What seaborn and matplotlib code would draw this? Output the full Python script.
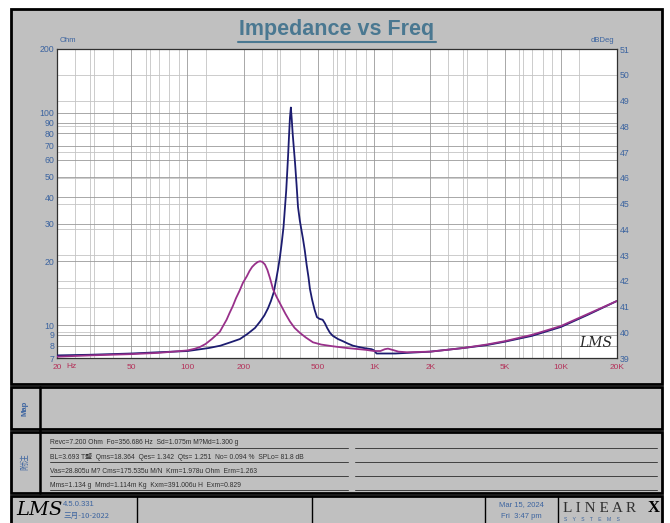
import pandas as pd
import numpy as np
import seaborn as sns
import matplotlib.pyplot as plt
from matplotlib.patches import Rectangle
from matplotlib.ticker import FixedLocator, NullFormatter

sns.set_style("white")
plt.rcParams['font.family'] = ['Liberation Sans Narrow', 'Liberation Sans', 'Noto Sans CJK SC', 'DejaVu Sans']

# impedance curves
freq_blue = [20, 30, 50, 70, 100, 130, 150, 170, 191, 210, 230, 245, 258, 270, 280, 290,
             299, 306, 313, 320, 327, 333, 338, 342, 346, 350, 354, 358, 362, 366, 371,
             377, 384, 391, 400, 408, 416, 425, 435, 445, 453, 465, 480, 494, 510, 530,
             545, 560, 580, 601, 640, 680, 720, 770, 820, 880, 970, 1000, 1030, 1100,
             1300, 1500, 2000, 3000, 4000, 5000, 7000, 10000, 14000, 20000]
ohm_blue = [7.2, 7.25, 7.35, 7.45, 7.55, 7.8, 8.0, 8.3, 8.6, 9.1, 9.7, 10.4, 11.1, 12.0, 13.0, 14.3,
            16.5, 18.5, 21, 24.5, 29, 36, 43, 52, 63, 78, 95, 106, 93, 80, 69,
            58, 46, 36, 31, 28, 25.4, 22.5, 19.2, 16.8, 14.8, 13.2, 11.8, 10.9, 10.7, 10.6,
            10.2, 9.7, 9.2, 8.9, 8.6, 8.4, 8.2, 8.0, 7.9, 7.8, 7.7, 7.6, 7.35, 7.35,
            7.35, 7.4, 7.5, 7.8, 8.05, 8.35, 8.9, 9.8, 11.2, 13.0]

freq_mag = [20, 30, 50, 70, 100, 110, 117, 125, 135, 142, 149, 155, 162, 168, 175, 182,
            190, 198, 208, 215, 222, 230, 238, 245, 252, 260, 268, 277, 287, 300, 320,
            335, 354, 375, 400, 430, 470, 520, 600, 715, 900, 1000, 1080, 1140, 1186,
            1250, 1350, 1500, 2000, 3000, 4000, 5000, 7000, 10000, 14000, 20000]
ohm_mag = [7.1, 7.2, 7.3, 7.4, 7.6, 7.75, 7.9, 8.15, 8.6, 8.95, 9.3, 9.9, 10.6, 11.4, 12.3, 13.4,
           14.5, 15.8, 17.0, 18.0, 18.8, 19.4, 19.85, 20.0, 19.85, 19.3, 18.2, 16.6, 14.8, 13.6, 12.2,
           11.3, 10.4, 9.7, 9.2, 8.75, 8.3, 8.1, 7.95, 7.8, 7.65, 7.55, 7.55, 7.7, 7.75,
           7.65, 7.5, 7.45, 7.5, 7.8, 8.1, 8.4, 9.0, 9.9, 11.3, 13.0]

x_ticks = [20, 50, 100, 200, 500, 1000, 2000, 5000, 10000, 20000]
x_labels = ["20", "50", "100", "200", "500", "1K", "2K", "5K", "10K", "20K"]
y_ticks = [7, 8, 9, 10, 20, 30, 40, 50, 60, 70, 80, 90, 100, 200]
db_ticks = list(range(39, 52))

notes = ["Revc=7.200 Ohm  Fo=356.686 Hz  Sd=1.075m M?Md=1.300 g",
         "BL=3.693 T鹽  Qms=18.364  Qes= 1.342  Qts= 1.251  No= 0.094 %  SPLo= 81.8 dB",
         "Vas=28.805u M? Cms=175.535u M/N  Krm=1.978u Ohm  Erm=1.263",
         "Mms=1.134 g  Mmd=1.114m Kg  Kxm=391.006u H  Exm=0.829"]

df = pd.concat([
    pd.DataFrame({"freq": freq_blue, "ohm": ohm_blue, "curve": "blue"}),
    pd.DataFrame({"freq": freq_mag, "ohm": ohm_mag, "curve": "mag"}),
])

W, H = 670, 523
fig = plt.figure(figsize=(W / 100, H / 100), dpi=100, facecolor="white")

GREY = "#c0c0c0"
BLUE_TXT = "#3c64a0"
RED_TXT = "#b4325a"

# background / panels in pixel coords
bg = fig.add_axes([0, 0, 1, 1], zorder=0)
bg.set_xlim(0, W)
bg.set_ylim(H, 0)
bg.axis("off")
for (x0, y0, x1, y1) in [(11, 9, 662, 384), (11, 387, 662, 429), (11, 432, 662, 493), (11, 496, 662, 524)]:
    bg.add_patch(Rectangle((x0, y0), x1 - x0, y1 - y0, fc=GREY, ec="black", lw=2))
bg.plot([40, 40], [387, 493], color="black", lw=1.8)
for xd in [137, 312, 485, 558]:
    bg.plot([xd, xd], [496, 523], color="black", lw=1)

# title with underline
bg.text(337, 30, "Impedance vs Freq", ha="center", va="center", fontsize=15.5,
        fontweight="bold", color="#4a7891", family=["Liberation Sans", "DejaVu Sans"])
bg.plot([238, 436], [42, 42], color="#4a7891", lw=1.5)
bg.text(60, 44, "Ohm", fontsize=5.5, color=BLUE_TXT, va="bottom")
bg.text(614, 44, "dBDeg", fontsize=5.5, color=BLUE_TXT, va="bottom", ha="right")
bg.text(66, 367, "Hz", fontsize=6, color=RED_TXT, va="center")

# side labels
bg.text(25, 408, "Map", rotation=90, ha="center", va="center", fontsize=5.5,
        color=BLUE_TXT, fontweight="bold")
bg.text(25, 462, "附注", rotation=90, ha="center", va="center", fontsize=6,
        color=BLUE_TXT)

# notes lines
for i, line in enumerate(notes):
    yy = 443 + i * 14.3
    bg.text(50, yy, line, fontsize=4.9, color="#303030", va="center")
    bg.plot([50, 348], [yy + 4.5, yy + 4.5], color="#404040", lw=0.7)
    bg.plot([355, 657], [yy + 4.5, yy + 4.5], color="#404040", lw=0.7)

# footer
bg.text(16, 510, "LMS", fontsize=14, style="italic", color="black", va="center",
        family=["DejaVu Serif"])
bg.text(63, 505, "4.5.0.331", fontsize=5.5, color=BLUE_TXT, va="center")
bg.text(63, 516, "三月-10-2022", fontsize=5.5, color=BLUE_TXT, va="center",
        family=["Noto Sans CJK SC", "DejaVu Sans"])
bg.text(521, 505, "Mar 15, 2024", fontsize=5.5, color=BLUE_TXT, va="center", ha="center")
bg.text(521, 516, "Fri  3:47 pm", fontsize=5.5, color=BLUE_TXT, va="center", ha="center")
bg.text(563, 508, "L I N E A R", fontsize=11, color="#303030", va="center",
        family=["Liberation Serif"])
bg.text(660, 508, "X", fontsize=12, color="black", va="center", ha="right",
        fontweight="bold", family=["Liberation Serif"])
bg.text(564, 519.5, "S    Y    S    T    E    M    S", fontsize=3.6, color=BLUE_TXT, va="center")

# main chart: dB twin axis sits underneath so its grid shows through
ax = fig.add_axes([57 / W, (H - 358) / H, 560 / W, 309 / H], zorder=2)
ax2 = ax.twinx()
ax2.set_zorder(1)
ax.set_zorder(2)
ax2.patch.set_visible(True)
ax2.patch.set_facecolor("white")
ax.patch.set_visible(False)

sns.lineplot(data=df, x="freq", y="ohm", hue="curve", palette={"blue": "#1c1c70", "mag": "#98308a"},
             estimator=None, legend=False, lw=1.3, ax=ax, zorder=5)
ax.set_xscale("log")
ax.set_yscale("log")
ax.set_xlim(20, 20000)
ax.set_ylim(7, 200)

minor_x = [m * 10 ** d for d in range(1, 5) for m in range(1, 10)]
third_oct = [25, 31.5, 63, 125, 250, 315, 630, 1250, 2500, 3150, 6300, 12500]
ax.xaxis.set_major_locator(FixedLocator(x_ticks))
ax.xaxis.set_minor_locator(FixedLocator(minor_x + third_oct))
ax.xaxis.set_minor_formatter(NullFormatter())
ax.set_xticklabels(x_labels)
ax.yaxis.set_major_locator(FixedLocator(y_ticks))
ax.yaxis.set_minor_locator(FixedLocator([15]))
ax.yaxis.set_minor_formatter(NullFormatter())
ax.set_yticklabels([str(v) for v in y_ticks])
ax.grid(True, which="major", color="#9a9a9a", lw=0.6)
ax.grid(True, which="minor", color="#c4c4c4", lw=0.6)
ax.tick_params(axis="both", which="both", length=0, pad=2)
ax.tick_params(axis="x", labelsize=6, labelcolor=RED_TXT, pad=4)
ax.tick_params(axis="y", labelsize=6.3, labelcolor=BLUE_TXT)
ax.set_xlabel("")
ax.set_ylabel("")
for s in ax.spines.values():
    s.set_color("#303030")
    s.set_linewidth(0.9)
ax.text(0.962, 0.05, "LMS", transform=ax.transAxes, fontsize=10, style="italic",
        ha="center", va="center", family=["DejaVu Serif"], zorder=6)

ax2.set_ylim(39, 51)
ax2.set_yticks(db_ticks)
ax2.set_yticklabels([str(v) for v in db_ticks])
ax2.grid(True, color="#c4c4c4", lw=0.6)
ax2.tick_params(axis="y", length=0, labelsize=6.3, labelcolor=BLUE_TXT, pad=2)
for s in ax2.spines.values():
    s.set_visible(False)

fig.savefig("out.png", dpi=100, facecolor="white")
